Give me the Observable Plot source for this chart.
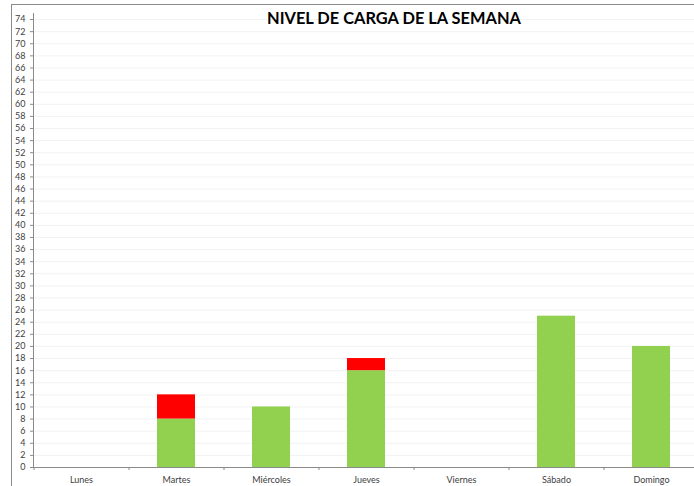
<!DOCTYPE html>
<html>
<head>
<meta charset="utf-8">
<script src="https://cdn.jsdelivr.net/npm/d3@7"></script>
<script src="https://cdn.jsdelivr.net/npm/@observablehq/plot@0.6"></script>
<style>
  html, body { margin: 0; padding: 0; background: #fff; }
  #wrap { position: relative; width: 694px; height: 486px; overflow: hidden; }
  #border { position: absolute; left: 11px; top: 4px; right: -2px; bottom: -2px;
            border-left: 1px solid #8a8a8a; border-top: 1px solid #8a8a8a; }
  #title { position: absolute; left: 194px; width: 400px; top: 8px; text-align: center;
           font: bold 16.4px Lato, "Open Sans", sans-serif; color: #000; }
  #chart { position: absolute; left: 0; top: 0; }
</style>
</head>
<body>
<div id="wrap">
  <div id="chart"></div>
  <div id="border"></div>
  <div id="title">NIVEL DE CARGA DE LA SEMANA</div>
</div>
<script>
const days = ["Lunes", "Martes", "Miércoles", "Jueves", "Viernes", "Sábado", "Domingo"];
const green = [0, 8, 10, 16, 0, 25, 20];
const red   = [0, 4, 0, 2, 0, 0, 0];
const yTicks = d3.range(0, 75, 2);
const seriesNames = ["verde", "rojo"];
const seriesColors = ["#92D050", "#FF0000"];

const data = [];
days.forEach((d, i) => {
  data.push({day: d, serie: "verde", value: green[i]});
  data.push({day: d, serie: "rojo", value: red[i]});
});

const step = 95;
const chart = Plot.plot({
  width: 694,
  height: 486,
  marginLeft: 33,
  marginRight: 0,
  marginTop: 13,
  marginBottom: 19,
  style: {fontFamily: "Lato, 'Open Sans', sans-serif", fontSize: "9px", color: "#404040", background: "transparent"},
  x: {domain: days, range: [33, 698], paddingInner: 0.6, paddingOuter: 0.3, label: null},
  y: {domain: [0, 75], label: null},
  color: {domain: seriesNames, range: seriesColors},
  marks: [
    Plot.gridY(yTicks, {stroke: "#f2f2f2", strokeOpacity: 1}),
    Plot.barY(data, {x: "day", y: "value", fill: "serie", order: seriesNames}),
    Plot.axisY(yTicks, {tickSize: 3, tickPadding: 5, tickFormat: d => d, stroke: "#8a8a8a", fill: "#404040"}),
    Plot.axisX({tickSize: 0, tickPadding: 9, fill: "#404040"}),
    Plot.ruleY([0], {stroke: "#8a8a8a"}),
    Plot.ruleX(days, {x: d => d, y1: 0, y2: 0, insetBottom: -3, dx: -step / 2, stroke: "#8a8a8a"}),
    Plot.frame({anchor: "left", stroke: "#8a8a8a"})
  ]
});
document.getElementById("chart").appendChild(chart);
</script>
</body>
</html>
